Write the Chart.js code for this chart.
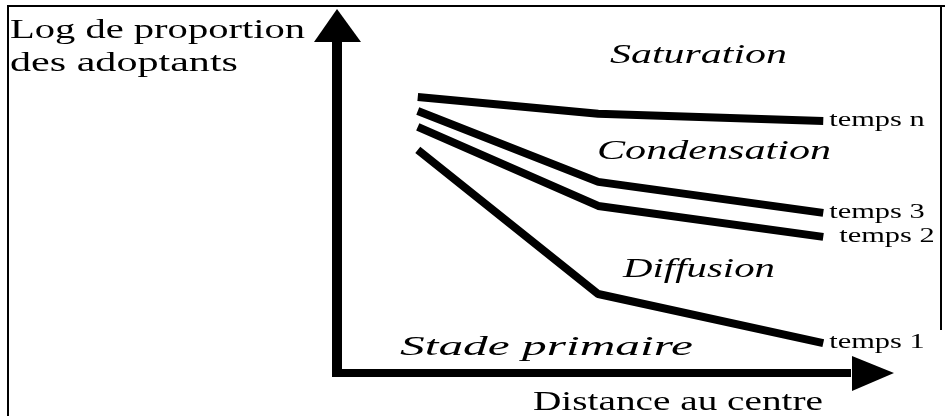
<!DOCTYPE html>
<html>
<head>
<meta charset="utf-8">
<script src="https://cdn.jsdelivr.net/npm/chart.js@4"></script>
<style>
  body { margin: 0; background: #fff; }
  #wrap { width: 945px; height: 416px; position: relative; }
</style>
</head>
<body>
<div id="wrap"><canvas id="chart"></canvas></div>
<script>
// distance au centre (0-100), log proportion (0-100)
const distance = [14.5, 46.9, 87.3];
const tempsN = [75.8, 71.2, 69.2];
const temps3 = [72.0, 52.5, 44.0];
const temps2 = [67.6, 45.9, 37.4];
const temps1 = [61.3, 21.7, 8.2];
const seriesLabels = ["temps n", "temps 3", "temps 2", "temps 1"];
const stageLabels = ["Saturation", "Condensation", "Diffusion", "Stade primaire"];
const yTitle = ["Log de proportion", "des adoptants"];
const xTitle = "Distance au centre";

const series = [tempsN, temps3, temps2, temps1];

/*
text layout (left, baseline, target width)
*/
const SERIF = '"Liberation Serif", "Times New Roman", serif';
const stagePos = [[610, 63, 177], [597, 159, 234], [623, 277, 152], [400, 355, 293]];
const labelDx = [6, 6, 16, 6];

function stretchText(ctx, text, x, y, font, width) {
  ctx.save();
  ctx.font = font;
  const w = ctx.measureText(text).width;
  ctx.translate(x, y);
  ctx.scale(width / w, 1);
  ctx.textBaseline = "alphabetic";
  ctx.textAlign = "left";
  ctx.fillText(text, 0, 0);
  ctx.restore();
}

const diagram = {
  id: "diagram",
  beforeDatasetsDraw(chart) {
    const c = chart.ctx;
    const xs = chart.scales.x, ys = chart.scales.y;
    const ox = xs.getPixelForValue(0), oy = ys.getPixelForValue(0);
    const tipY = ys.getPixelForValue(100), tipX = xs.getPixelForValue(100);
    c.save();
    c.fillStyle = "#000";
    c.strokeStyle = "#000";

    // frame
    c.lineWidth = 2;
    c.beginPath();
    c.moveTo(8, 416); c.lineTo(8, 6); c.lineTo(945, 6);
    c.stroke();
    c.beginPath();
    c.moveTo(941, 6); c.lineTo(941, 330);
    c.stroke();

    // y axis
    c.fillRect(ox - 5, tipY + 30, 10, oy - tipY - 26);
    c.beginPath();
    c.moveTo(ox, tipY); c.lineTo(ox - 23, tipY + 33); c.lineTo(ox + 24, tipY + 33);
    c.closePath(); c.fill();

    // x axis
    c.fillRect(ox - 5, oy - 4, tipX - ox - 38, 8);
    c.beginPath();
    c.moveTo(tipX, oy); c.lineTo(tipX - 42, oy - 17); c.lineTo(tipX - 42, oy + 18);
    c.closePath(); c.fill();
    c.restore();
  },
  afterDraw(chart) {
    const c = chart.ctx;
    const xs = chart.scales.x, ys = chart.scales.y;
    c.save();
    c.fillStyle = "#000";
    stretchText(c, yTitle[0], 10, 38, "27px " + SERIF, 295);
    stretchText(c, yTitle[1], 10, 71, "27px " + SERIF, 228);
    stretchText(c, xTitle, 533, 410, "27px " + SERIF, 290);

    stageLabels.forEach((t, i) => {
      const p = stagePos[i];
      stretchText(c, t, p[0], p[1], "italic 27px " + SERIF, p[2]);
    });

    series.forEach((s, i) => {
      const x = xs.getPixelForValue(distance[distance.length - 1]) + labelDx[i];
      const y = ys.getPixelForValue(s[s.length - 1]) + 5;
      c.font = "20px " + SERIF;
      const w = c.measureText(seriesLabels[i]).width;
      stretchText(c, seriesLabels[i], x, y, "20px " + SERIF, w * 1.52);
    });
    c.restore();
  }
};

new Chart(document.getElementById("chart"), {
  type: "line",
  data: {
    datasets: series.map((s, i) => ({
      label: seriesLabels[i],
      data: s.map((v, j) => ({ x: distance[j], y: v })),
      borderColor: "#000",
      borderWidth: 8,
      borderCapStyle: "butt",
      borderJoinStyle: "bevel",
      pointRadius: 0,
      tension: 0,
      fill: false
    }))
  },
  options: {
    responsive: true,
    maintainAspectRatio: false,
    animation: false,
    layout: { padding: { left: 337, right: 51, top: 9, bottom: 43 } },
    plugins: { legend: { display: false }, tooltip: { enabled: false } },
    scales: {
      x: { type: "linear", min: 0, max: 100, display: false },
      y: { type: "linear", min: 0, max: 100, display: false }
    }
  },
  plugins: [diagram]
});
</script>
</body>
</html>
